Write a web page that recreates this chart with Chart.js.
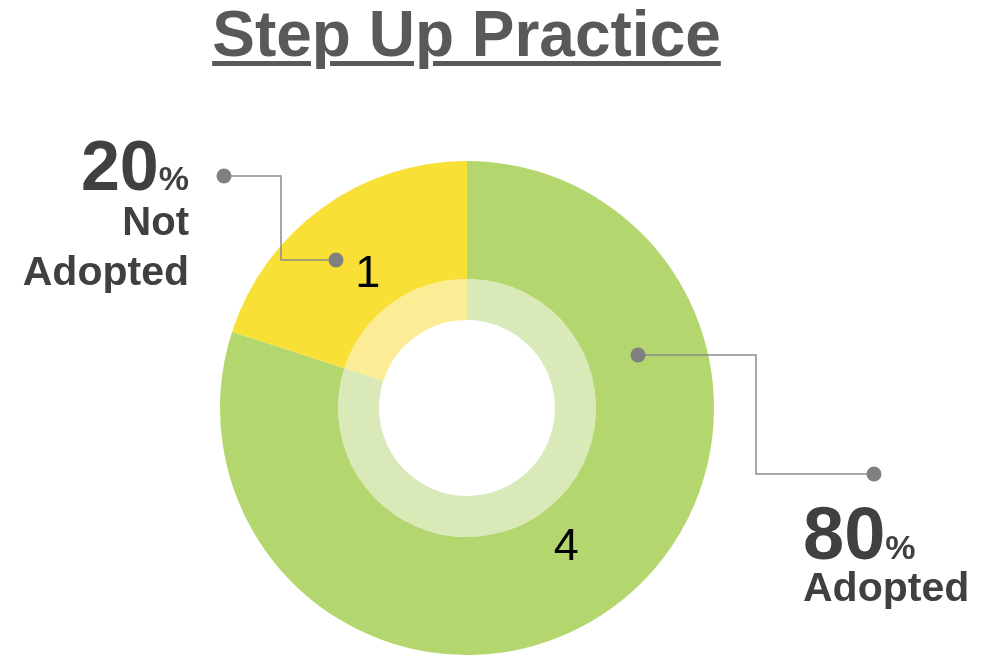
<!DOCTYPE html>
<html>
<head>
<meta charset="utf-8">
<script src="https://cdn.jsdelivr.net/npm/chart.js@4.4.0/dist/chart.umd.min.js"></script>
<style>
  html, body { margin: 0; padding: 0; background: #fff; }
  body { width: 999px; height: 655px; position: relative; overflow: hidden;
         font-family: "Liberation Sans", Arial, sans-serif; }
  #chart { position: absolute; left: 0; top: 0; }
  .txt { position: absolute; line-height: 1; font-weight: bold; color: #404040; white-space: nowrap; }
  .title { left: 0; width: 933px; text-align: center; top: 2px; font-size: 64px; color: #595959;
           text-decoration: underline; text-decoration-thickness: 5px; text-underline-offset: 5px; }
  .right { right: 810px; text-align: right; }
  .pct { font-size: 34px; }
</style>
</head>
<body>
<canvas id="chart" width="999" height="655"></canvas>

<div class="txt title">Step Up Practice</div>
<div class="txt right" style="top:131px;font-size:70px;">20<span class="pct">%</span></div>
<div class="txt right" style="top:201px;font-size:40px;">Not</div>
<div class="txt right" style="top:251px;font-size:41px;">Adopted</div>
<div class="txt" style="left:803px;top:497px;font-size:74px;">80<span class="pct">%</span></div>
<div class="txt" style="left:803px;top:567px;font-size:41px;">Adopted</div>

<script>
const categories = ['Adopted', 'Not Adopted'];
const counts = [4, 1];
const outerColors = ['#B3D76E', '#F9E036'];
const innerColors = ['#D9E9B8', '#FBEC95'];

// count labels and the two callout leaders
const calloutPlugin = {
  id: 'callouts',
  afterDatasetsDraw(chart) {
    const ctx = chart.ctx;
    const arcs = chart.getDatasetMeta(0).data;
    const cx = arcs[0].x, cy = arcs[0].y;

    ctx.save();
    ctx.fillStyle = '#000';
    ctx.font = '45px "Liberation Sans", Arial, sans-serif';
    ctx.textAlign = 'center';
    ctx.textBaseline = 'middle';
    arcs.forEach((arc, i) => {
      const mid = (arc.startAngle + arc.endAngle) / 2;
      const r = 169;
      ctx.fillText(String(counts[i]), cx + Math.cos(mid) * r, cy + Math.sin(mid) * r + 3);
    });

    // leader paths, relative to the ring centre
    const leaders = [
      [[-131, -148], [-186, -148], [-186, -232], [-243, -232]],
      [[171, -53], [289, -53], [289, 66], [407, 66]]
    ];
    ctx.strokeStyle = '#8C8C8C';
    ctx.lineWidth = 1.5;
    ctx.fillStyle = '#808080';
    leaders.forEach(pts => {
      ctx.beginPath();
      pts.forEach((p, k) => {
        const x = cx + p[0], y = cy + p[1];
        if (k === 0) ctx.moveTo(x, y); else ctx.lineTo(x, y);
      });
      ctx.stroke();
      [pts[0], pts[pts.length - 1]].forEach(p => {
        ctx.beginPath();
        ctx.arc(cx + p[0], cy + p[1], 7.5, 0, Math.PI * 2);
        ctx.fill();
      });
    });
    ctx.restore();
  }
};

new Chart(document.getElementById('chart'), {
  type: 'doughnut',
  data: {
    labels: categories,
    datasets: [
      { data: counts, backgroundColor: outerColors, weight: 118 },
      { data: counts, backgroundColor: innerColors, weight: 41 }
    ]
  },
  options: {
    responsive: false,
    animation: false,
    devicePixelRatio: 1,
    events: [],
    cutout: '35.6%',
    borderWidth: 0,
    hoverBorderWidth: 0,
    hoverOffset: 0,
    layout: { padding: { top: 161, bottom: 0, left: 0, right: 65 } },
    plugins: {
      legend: { display: false },
      tooltip: { enabled: false }
    }
  },
  plugins: [calloutPlugin]
});
</script>
</body>
</html>
